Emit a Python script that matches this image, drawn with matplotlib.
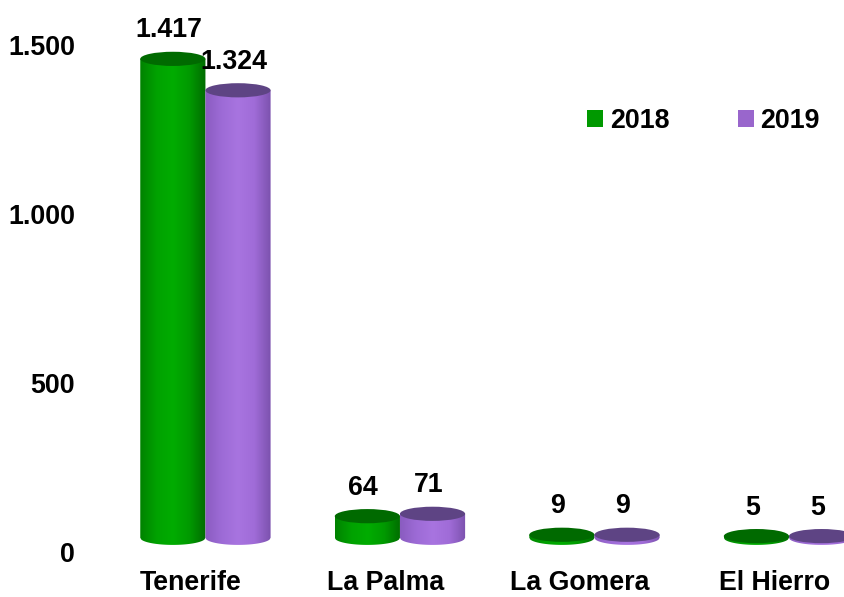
"""
Visitantes por isla (2018 vs 2019) — cylinder bar chart.
Writes out.png.
"""

import numpy as np
import matplotlib.pyplot as plt
from matplotlib.patches import Ellipse, Polygon, Patch
from matplotlib.colors import LinearSegmentedColormap
from matplotlib.ticker import FuncFormatter

plt.rcParams['font.family'] = ['Liberation Sans', 'DejaVu Sans']
plt.rcParams['font.weight'] = 'bold'

islands   = ['Tenerife', 'La Palma', 'La Gomera', 'El Hierro']
years     = ['2018', '2019']
vals_2018 = [1417, 64, 9, 5]
vals_2019 = [1324, 71, 9, 5]
y_ticks   = [0, 500, 1000, 1500]

# side shading: left edge -> highlight -> right edge
SIDE_COLORS = {
    '2018': ['#008200', '#00a200', '#00ac00', '#009a00', '#006c00'],
    '2019': ['#8a5cc0', '#9d6bd6', '#a874e0', '#a06cd8', '#7c52ae'],
}
TOP_COLORS    = {'2018': '#006a00', '2019': '#5e4484'}
LEGEND_COLORS = {'2018': '#009900', '2019': '#9966cc'}

FLOOR = 42     # lift of the 3d floor, in data units
RY    = 21     # half height of the end ellipses, in data units
W     = 0.335  # cylinder width (category spacing = 1)
FS    = 19.3


def fmt_es(v, pos=None):
    return f"{v:,.0f}".replace(",", ".")


def cylinder(ax, xc, value, cmap, top_color, z):
    x0, x1 = xc - W / 2, xc + W / 2
    top = FLOOR + value
    xs = np.linspace(x1, x0, 60)
    ys = FLOOR - RY * np.sqrt(np.clip(1 - ((xs - xc) / (W / 2)) ** 2, 0, 1))
    pts = [(x0, top), (x1, top)] + list(zip(xs, ys))
    body = Polygon(pts, closed=True, facecolor='none', edgecolor='none')
    ax.add_patch(body)
    grad = np.linspace(0, 1, 128).reshape(1, -1)
    im = ax.imshow(grad, cmap=cmap, extent=[x0, x1, FLOOR - RY, top],
                   aspect='auto', origin='lower', interpolation='bilinear',
                   zorder=z)
    im.set_clip_path(body)
    ax.add_patch(Ellipse((xc, top), W, 2 * RY, facecolor=top_color,
                         edgecolor='none', zorder=z + 0.5))
    ax.annotate(fmt_es(value), xy=(xc, top + RY), xytext=(-3, 6),
                textcoords='offset points', ha='center', va='bottom',
                fontsize=FS, fontweight='bold', annotation_clip=False,
                zorder=10)


fig = plt.figure(figsize=(8.45, 5.97), dpi=100)
ax = fig.add_axes([100 / 845, 45 / 597, 745 / 845, 507 / 597])

x = np.arange(len(islands))
series = {'2018': vals_2018, '2019': vals_2019}
for s_idx, yr in enumerate(years):
    cmap = LinearSegmentedColormap.from_list(f"side{yr}", SIDE_COLORS[yr])
    offset = (s_idx - 0.5) * W
    for i, v in enumerate(series[yr]):
        cylinder(ax, x[i] + offset, v, cmap, TOP_COLORS[yr], z=2 + 2 * s_idx)

ax.set_xlim(-0.542, 3.288)
ax.set_ylim(0, 1500)
ax.set_yticks(y_ticks)
ax.yaxis.set_major_formatter(FuncFormatter(fmt_es))
ax.set_xticks(x - 0.075)
ax.set_xticklabels(islands)
ax.tick_params(axis='y', length=0, pad=18, labelsize=FS)
ax.tick_params(axis='x', length=0, pad=13, labelsize=FS)
for sp in ax.spines.values():
    sp.set_visible(False)

handles = [Patch(facecolor=LEGEND_COLORS[yr], label=yr) for yr in years]
fig.legend(handles=handles, loc='upper left',
           bbox_to_anchor=(563 / 845, 1 - 84 / 597), ncol=2, frameon=False,
           handlelength=0.6, handleheight=0.6, handletextpad=0.25,
           columnspacing=2.55, prop={'size': FS, 'weight': 'bold'})

fig.savefig('out.png', dpi=100)
